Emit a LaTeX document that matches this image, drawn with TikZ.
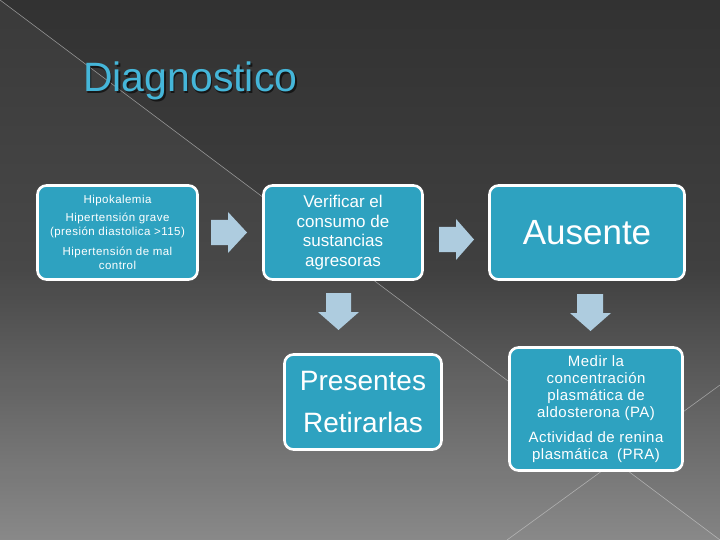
\documentclass[tikz,border=0pt]{standalone}
\usepackage{fontspec}
\setmainfont{Liberation Sans}
\newfontfamily\spacedfont[LetterSpace=4]{Liberation Sans}
\newfontfamily\spacedfontb[LetterSpace=3]{Liberation Sans}
\usetikzlibrary{shadings}
\definecolor{boxfill}{HTML}{2EA2C0}
\definecolor{arrowfill}{HTML}{AECCDF}
\definecolor{titlecol}{HTML}{45B6D9}
\definecolor{bgtop}{HTML}{323232}
\definecolor{bgmid}{HTML}{404040}
\definecolor{bgbot}{HTML}{848484}
\newcommand{\fsz}[2]{\fontsize{#1pt}{#2pt}\selectfont}
\tikzset{
  box/.style={draw=white, line width=2.6pt, fill=boxfill, rounded corners=9pt,
    text=white, align=center, inner sep=2pt},
  blockarrow/.style={fill=arrowfill},
  bgline/.style={draw=white!70!gray, opacity=0.55, line width=0.6pt}
}
\begin{document}
\begin{tikzpicture}[x=1pt,y=-1pt]
\useasboundingbox (0,0) rectangle (720,540);
% background
\shade[top color=bgtop, bottom color=bgbot, middle color=bgmid] (0,0) rectangle (720,540);
\fill[white, opacity=0.045] (0,0) -- (720,540) -- (0,540) -- cycle;
\coordinate (d1a) at (0,0);
\coordinate (d1b) at (720,540);
\coordinate (d2a) at (507,540);
\coordinate (d2b) at (720,385);
\draw[bgline] (d1a) -- (d1b);
\draw[bgline] (d2a) -- (d2b);
% title
\node[anchor=base west, text=black, opacity=0.6, inner sep=0pt, font=\fsz{41}{45}] (titleshadow) at (84.5,93.5) {Diagnostico};
\node[anchor=base west, text=titlecol, inner sep=0pt, font=\fsz{41}{45}] (title) at (83,92) {Diagnostico};
% boxes
\node[box, minimum width=160pt, minimum height=94pt, font=\spacedfont\fsz{11.5}{14.5}] (b1) at (117.5,232.5)
  {Hipokalemia\\[3.5pt]Hipertensión grave\\(presión diastolica >115)\\[5pt]Hipertensión de mal\\control};
\node[box, minimum width=159pt, minimum height=94pt, font=\fsz{17}{19.7}] (b2) at (343,232.5)
  {Verificar el\\consumo de\\sustancias\\agresoras};
\node[box, minimum width=195pt, minimum height=94pt, font=\fsz{35}{40}] (b3) at (587,232.5)
  {Ausente};
\node[box, minimum width=157pt, minimum height=95pt, font=\fsz{28}{42}] (b4) at (363,402)
  {Presentes\\Retirarlas};
\node[box, minimum width=173pt, minimum height=123pt, font=\spacedfontb\fsz{15}{17}] (b5) at (596,409)
  {Medir la\\concentración\\plasmática de\\aldosterona (PA)\\[8pt]Actividad de renina\\plasmática~ (PRA)};
% block arrows
\fill[blockarrow] (211,220) -- (228,220) -- (228,212) -- (247,232.5) -- (228,253) -- (228,245) -- (211,245) -- cycle;
\fill[blockarrow] (439,227) -- (456,227) -- (456,219) -- (474,239.5) -- (456,260) -- (456,252) -- (439,252) -- cycle;
\fill[blockarrow] (326,293) -- (351,293) -- (351,312) -- (359,312) -- (338.5,330) -- (318,312) -- (326,312) -- cycle;
\fill[blockarrow] (577,294) -- (603,294) -- (603,313) -- (611,313) -- (590.5,331) -- (570,313) -- (577,313) -- cycle;
\end{tikzpicture}
\end{document}
